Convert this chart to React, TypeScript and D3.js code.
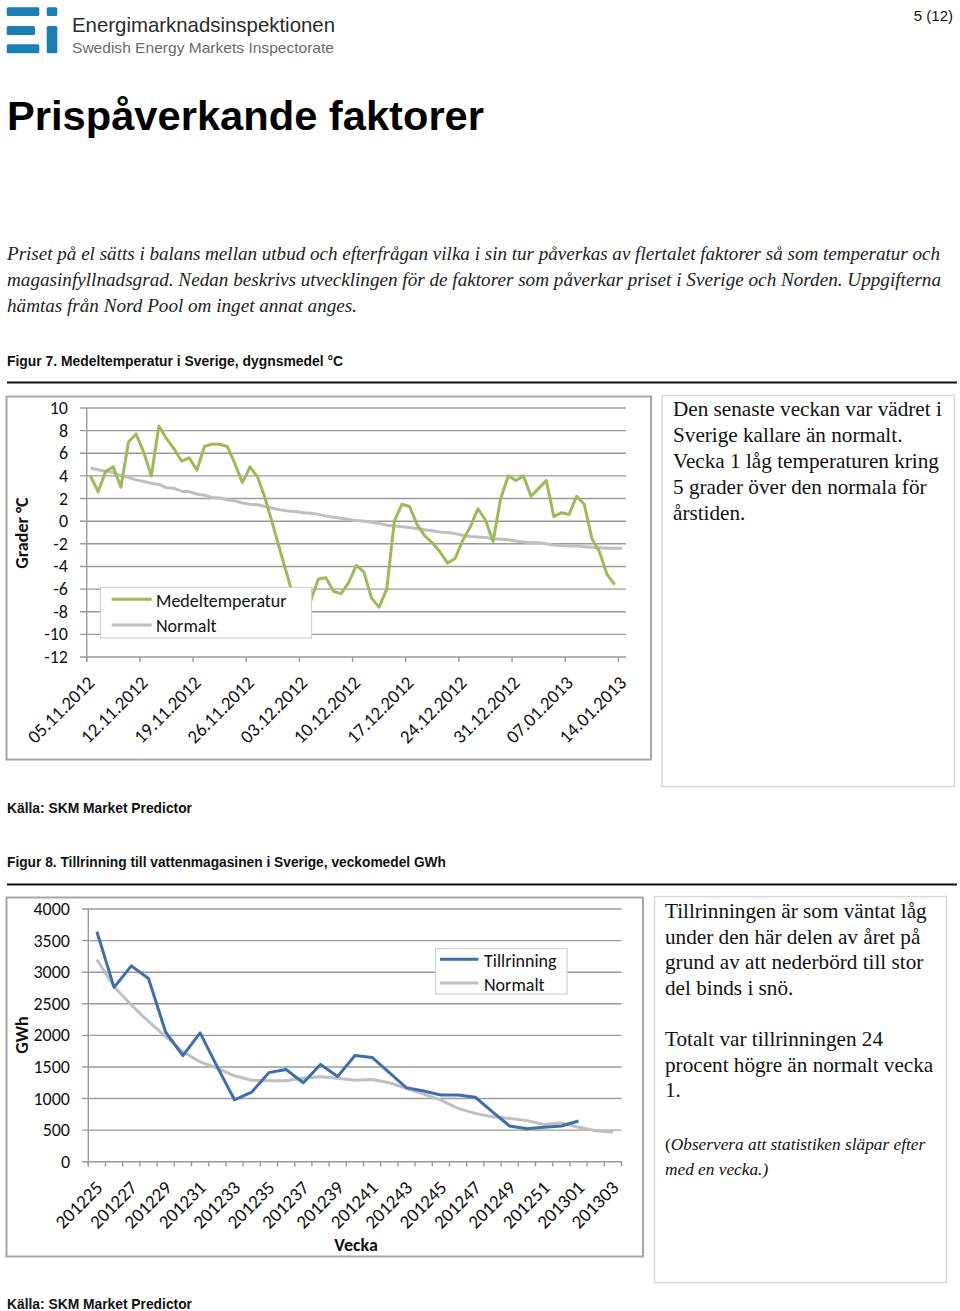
import React from 'react';
import * as d3 from 'd3';

// ---------- Data ----------
const tempTickLabels = ['05.11.2012', '12.11.2012', '19.11.2012', '26.11.2012', '03.12.2012', '10.12.2012', '17.12.2012', '24.12.2012', '31.12.2012', '07.01.2013', '14.01.2013'];
const tempDayCount = 71;
const tempMean = [
  4.0, 2.6, 4.4, 4.8, 3.0, 7.0, 7.7, 6.1, 4.0, 8.4,
  7.3, 6.4, 5.3, 5.6, 4.5, 6.6, 6.8, 6.8, 6.6, 5.1,
  3.4, 4.8, 3.9, 2.0, -0.3, -2.7, -5.0, -7.5, -8.5, -7.0,
  -5.1, -5.0, -6.2, -6.4, -5.4, -3.9, -4.5, -6.8, -7.6, -6.0,
  0.0, 1.5, 1.3, -0.3, -1.3, -1.9, -2.7, -3.7, -3.3, -1.7,
  -0.5, 1.1, 0.1, -1.8, 2.0, 4.0, 3.6, 4.0, 2.2, 2.9,
  3.6, 0.4, 0.75, 0.6, 2.2, 1.5, -1.5, -2.7, -4.7, -5.6,
];
const tempNormal = [
  4.7, 4.55, 4.4, 4.3, 4.0, 3.85, 3.65, 3.5, 3.35, 3.25,
  2.95, 2.9, 2.65, 2.6, 2.4, 2.3, 2.1, 2.05, 1.9, 1.8,
  1.6, 1.5, 1.45, 1.3, 1.15, 1.0, 0.9, 0.85, 0.75, 0.7,
  0.6, 0.45, 0.35, 0.25, 0.15, 0.05, 0.0, -0.1, -0.2, -0.35,
  -0.42, -0.5, -0.55, -0.65, -0.75, -0.85, -0.95, -1.0, -1.1, -1.25,
  -1.35, -1.4, -1.45, -1.55, -1.6, -1.65, -1.75, -1.85, -1.9, -1.9,
  -2.0, -2.1, -2.15, -2.2, -2.2, -2.25, -2.3, -2.35, -2.4, -2.4, -2.4,
];
const tempYTicks = [10, 8, 6, 4, 2, 0, -2, -4, -6, -8, -10, -12];

const weeks = [
  '201225', '201226', '201227', '201228', '201229', '201230', '201231', '201232',
  '201233', '201234', '201235', '201236', '201237', '201238', '201239', '201240',
  '201241', '201242', '201243', '201244', '201245', '201246', '201247', '201248',
  '201249', '201250', '201251', '201252', '201301', '201302', '201303',
];
const inflow = [
  3640, 2760, 3100, 2900, 2050, 1680, 2040, 1500, 980, 1100,
  1410, 1460, 1250, 1540, 1350, 1680, 1650, 1410, 1170, 1120,
  1055, 1055, 1020, 790, 565, 520, 545, 565, 645,
];
const inflowNormal = [
  3200, 2770, 2480, 2220, 1980, 1740, 1580, 1480, 1360, 1290,
  1280, 1280, 1320, 1345, 1320, 1290, 1300, 1250, 1160, 1070,
  975, 845, 765, 710, 685, 650, 590, 615, 545, 490, 465,
];
const inflowYTicks = [4000, 3500, 3000, 2500, 2000, 1500, 1000, 500, 0];

const box1Lines = [
  'Den senaste veckan var vädret i',
  'Sverige kallare än normalt.',
  'Vecka 1 låg temperaturen kring',
  '5 grader över den normala för',
  'årstiden.',
];
const box2LinesA = [
  'Tillrinningen är som väntat låg',
  'under den här delen av året på',
  'grund av att nederbörd till stor',
  'del binds i snö.',
];
const box2LinesB = ['Totalt var tillrinningen 24', 'procent högre än normalt vecka', '1.'];

const introLines = [
  'Priset på el sätts i balans mellan utbud och efterfrågan vilka i sin tur påverkas av flertalet faktorer så som temperatur och',
  'magasinfyllnadsgrad. Nedan beskrivs utvecklingen för de faktorer som påverkar priset i Sverige och Norden. Uppgifterna',
  'hämtas från Nord Pool om inget annat anges.',
];

// ---------- Styles ----------
const chartFont = "Carlito, Lato, 'Open Sans', sans-serif";
const serif = "'Liberation Serif', 'DejaVu Serif', serif";
const headFont = "'Liberation Sans', Arial, sans-serif";
const GREEN = '#9bbb59';
const GRAY = '#bfbfbf';
const BLUE = '#3f6eaa';
const GRID = '#9a9a9a';

export default function App() {
  // Chart 1 scales
  const x1 = d3.scaleLinear().domain([0, tempDayCount]).range([86.7, 626]);
  const y1 = d3.scaleLinear().domain([-12, 10]).range([657, 408]);
  const line1 = d3.line<number>().x((_, i) => x1(i + 0.5)).y((d) => y1(d));

  // Chart 2 scales
  const x2 = d3.scaleLinear().domain([0, weeks.length]).range([88.3, 621.5]);
  const y2 = d3.scaleLinear().domain([0, 4000]).range([1161.7, 909]);
  const line2 = d3.line<number>().x((_, i) => x2(i + 0.5)).y((d) => y2(d));

  return (
    <svg width={960} height={1311} style={{ position: 'absolute', left: 0, top: 0, background: '#fff' }}>
      <rect x={0} y={0} width={960} height={1311} fill="#fff" />
      {/* Logo */}
      <g fill="#1c7fb4">
        <rect x={6.7} y={7.3} width={32.6} height={8.7} rx={1.5} />
        <rect x={46.7} y={7.3} width={10.6} height={8.7} rx={1.5} />
        <rect x={6.7} y={26} width={28.3} height={9} rx={1.5} />
        <rect x={6.7} y={44.3} width={32.6} height={9} rx={1.5} />
        <rect x={46.7} y={26} width={10.6} height={27.3} rx={1.5} />
      </g>
      <text x={72} y={32} fontFamily={headFont} fontSize={21} fill="#2b2b2b" textLength={263} lengthAdjust="spacingAndGlyphs">Energimarknadsinspektionen</text>
      <text x={72} y={53} fontFamily={headFont} fontSize={15} fill="#6a6a6a" textLength={262} lengthAdjust="spacingAndGlyphs">Swedish Energy Markets Inspectorate</text>
      <text x={953} y={21} textAnchor="end" fontFamily={headFont} fontSize={15} fill="#111">5 (12)</text>

      {/* Title */}
      <text x={7} y={130} fontFamily={headFont} fontWeight="bold" fontSize={40} fill="#000" textLength={477} lengthAdjust="spacingAndGlyphs">Prispåverkande faktorer</text>

      {/* Intro */}
      {introLines.map((t, i) => (
        <text key={i} x={7} y={260 + i * 26} fontFamily={serif} fontStyle="italic" fontSize={19.5} fill="#222"
          textLength={i === 0 ? 933 : i === 1 ? 934 : 350} lengthAdjust="spacingAndGlyphs">{t}</text>
      ))}

      {/* Figure 7 caption */}
      <text x={7} y={366} fontFamily={headFont} fontWeight="bold" fontSize={14.5} fill="#111" textLength={336} lengthAdjust="spacingAndGlyphs">Figur 7. Medeltemperatur i Sverige, dygnsmedel  °C</text>
      <line x1={7} x2={957} y1={382.5} y2={382.5} stroke="#111" strokeWidth={2} />

      {/* Chart 1 frame */}
      <rect x={6.5} y={396.5} width={644.5} height={363} fill="#fff" stroke="#a6a6a6" strokeWidth={2} />
      {tempYTicks.map((t) => (
        <g key={t}>
          <line x1={80} x2={626} y1={y1(t)} y2={y1(t)} stroke={GRID} strokeWidth={1.4} />
          <text x={68} y={y1(t) + 6} textAnchor="end" fontFamily={chartFont} fontSize={18} fill="#111">{t}</text>
        </g>
      ))}
      <line x1={86.7} x2={86.7} y1={408} y2={662} stroke={GRID} strokeWidth={1.4} />
      {tempTickLabels.map((lab, k) => {
        const tx = x1(k * 7);
        return (
          <g key={lab}>
            <line x1={tx} x2={tx} y1={657} y2={662} stroke={GRID} strokeWidth={1.4} />
            <text transform={`translate(${tx + 9},${684}) rotate(-45)`} textAnchor="end" fontFamily={chartFont} fontSize={18.8} fill="#111">{lab}</text>
          </g>
        );
      })}
      <text transform="translate(28,533) rotate(-90)" textAnchor="middle" fontFamily={chartFont} fontWeight="bold" fontSize={18} fill="#111">Grader °C</text>
      <path d={line1(tempNormal) || ''} fill="none" stroke={GRAY} strokeWidth={3} strokeLinejoin="round" />
      <path d={line1(tempMean) || ''} fill="none" stroke={GREEN} strokeWidth={3} strokeLinejoin="round" />
      {/* legend 1 */}
      <rect x={100.5} y={587.5} width={211} height={50.5} fill="#fff" stroke="#d0d0d0" strokeWidth={1.2} />
      <line x1={111.7} x2={151.7} y1={599.3} y2={599.3} stroke={GREEN} strokeWidth={3} />
      <line x1={111.7} x2={151.7} y1={625} y2={625} stroke={GRAY} strokeWidth={3} />
      <text x={156} y={607} fontFamily={chartFont} fontSize={18} fill="#111">Medeltemperatur</text>
      <text x={156} y={632} fontFamily={chartFont} fontSize={18} fill="#111">Normalt</text>

      {/* Text box 1 */}
      <rect x={662} y={395.5} width={292.5} height={391} fill="#fff" stroke="#d9d9d9" strokeWidth={1.5} />
      {box1Lines.map((t, i) => (
        <text key={i} x={673} y={416 + i * 26} fontFamily={serif} fontSize={21.2} fill="#111">{t}</text>
      ))}

      <text x={7} y={813} fontFamily={headFont} fontWeight="bold" fontSize={14.5} fill="#111" textLength={185} lengthAdjust="spacingAndGlyphs">Källa: SKM Market Predictor</text>

      {/* Figure 8 caption */}
      <text x={7} y={867} fontFamily={headFont} fontWeight="bold" fontSize={14.5} fill="#111" textLength={439} lengthAdjust="spacingAndGlyphs">Figur 8. Tillrinning till vattenmagasinen i Sverige, veckomedel GWh</text>
      <line x1={7} x2={957} y1={884.5} y2={884.5} stroke="#111" strokeWidth={2} />

      {/* Chart 2 frame */}
      <rect x={6.5} y={897.5} width={636.5} height={359} fill="#fff" stroke="#a6a6a6" strokeWidth={2} />
      {inflowYTicks.map((t) => (
        <g key={t}>
          <line x1={82} x2={621.5} y1={y2(t)} y2={y2(t)} stroke={GRID} strokeWidth={1.4} />
          <text x={70} y={y2(t) + 6} textAnchor="end" fontFamily={chartFont} fontSize={18} fill="#111">{t}</text>
        </g>
      ))}
      <line x1={88.3} x2={88.3} y1={909} y2={1166} stroke={GRID} strokeWidth={1.4} />
      {d3.range(weeks.length + 1).map((k) => (
        <line key={k} x1={x2(k)} x2={x2(k)} y1={1161.7} y2={1166.5} stroke={GRID} strokeWidth={1.4} />
      ))}
      {weeks.map((w, i) => (i % 2 === 0 ? (
        <text key={w} transform={`translate(${x2(i + 0.5) + 7},${1189}) rotate(-45)`} textAnchor="end" fontFamily={chartFont} fontSize={19} fill="#111">{w}</text>
      ) : null))}
      <text x={356} y={1251} textAnchor="middle" fontFamily={chartFont} fontWeight="bold" fontSize={18} fill="#111">Vecka</text>
      <text transform="translate(28,1035) rotate(-90)" textAnchor="middle" fontFamily={chartFont} fontWeight="bold" fontSize={18} fill="#111">GWh</text>
      <path d={line2(inflowNormal) || ''} fill="none" stroke={GRAY} strokeWidth={3} strokeLinejoin="round" />
      <path d={line2(inflow) || ''} fill="none" stroke={BLUE} strokeWidth={3} strokeLinejoin="round" />
      {/* legend 2 */}
      <rect x={435.5} y={948.5} width={131.5} height={45.5} fill="#fff" stroke="#d0d0d0" strokeWidth={1.2} />
      <line x1={440} x2={478.5} y1={959.3} y2={959.3} stroke={BLUE} strokeWidth={3} />
      <line x1={440} x2={478.5} y1={983} y2={983} stroke={GRAY} strokeWidth={3} />
      <text x={484} y={967} fontFamily={chartFont} fontSize={18} fill="#111">Tillrinning</text>
      <text x={484} y={990.5} fontFamily={chartFont} fontSize={18} fill="#111">Normalt</text>

      {/* Text box 2 */}
      <rect x={654.5} y={896.5} width={292} height={386} fill="#fff" stroke="#d9d9d9" strokeWidth={1.5} />
      {box2LinesA.map((t, i) => (
        <text key={i} x={665} y={918 + i * 25.7} fontFamily={serif} fontSize={21.2} fill="#111">{t}</text>
      ))}
      {box2LinesB.map((t, i) => (
        <text key={i} x={665} y={1046 + i * 25.7} fontFamily={serif} fontSize={21.2} fill="#111">{t}</text>
      ))}
      <text x={665} y={1150} fontFamily={serif} fontSize={17.3} fill="#111">
        (<tspan fontStyle="italic">Observera att statistiken släpar efter</tspan>
      </text>
      <text x={665} y={1175} fontFamily={serif} fontSize={17.3} fontStyle="italic" fill="#111">med en vecka.)</text>

      <text x={7} y={1309} fontFamily={headFont} fontWeight="bold" fontSize={14.5} fill="#111" textLength={185} lengthAdjust="spacingAndGlyphs">Källa: SKM Market Predictor</text>
    </svg>
  );
}
